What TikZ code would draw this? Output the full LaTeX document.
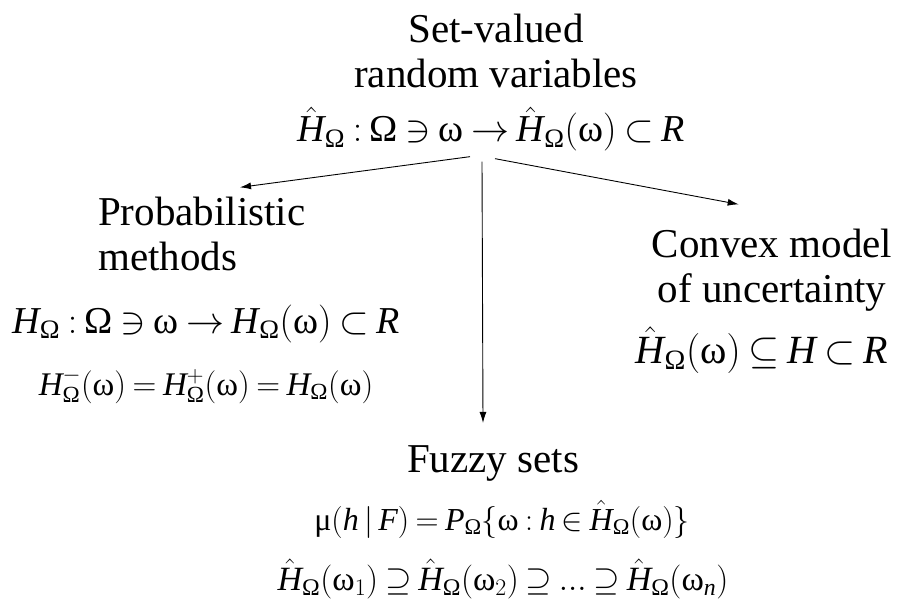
\RequirePackage{fix-cm}
\documentclass[tikz,border=0pt]{standalone}
\usepackage{amsmath}
\usepackage{fontspec}
\setmainfont{Liberation Serif}
\usetikzlibrary{arrows.meta}
\newcommand{\fsbig}{\fontsize{41}{45}\selectfont}
\newcommand{\fsmath}[1]{\fontsize{#1}{#1}\selectfont\thickmuskip=3.6mu\medmuskip=3mu}
\newcommand{\Om}{\text{Ω}}
\newcommand{\om}{\text{ω}}
\newcommand{\Hh}{\hat{\mathit{H}}}
\newcommand{\Hv}{\mathit{H}}
\begin{document}
\begin{tikzpicture}[x=1pt,y=-1pt,
  lbl/.style={font=\fsbig,inner sep=0pt,align=center},
  fml/.style={lbl,font=\fsmath{#1}},fml/.default=38,
  arr/.style={-{Latex[length=11pt,width=7pt]},line width=0.9pt}]
\useasboundingbox (0,0) rectangle (899,604);
% top: set-valued random variables
\node[lbl,anchor=base] (top) at (496,88) {Set-valued\\ random variables};
\node[fml,anchor=base] (topf) at (491,142) {$\Hh_{\Om} : \Om \ni \om \to \Hh_{\Om}(\om) \subset \mathit{R}$};
% left branch
\node[lbl,align=left,anchor=base west] (prob) at (98,270) {Probabilistic\\ methods};
\node[fml,anchor=base] (probf) at (206,333) {$\Hv_{\Om} : \Om \ni \om \to \Hv_{\Om}(\om) \subset \mathit{R}$};
\node[fml=33,anchor=base] (probg) at (206,395) {$\Hv^{-}_{\Om}(\om) = \Hv^{+}_{\Om}(\om) = \Hv_{\Om}(\om)$};
% right branch
\node[lbl,anchor=base] (convex) at (772,302) {Convex model\\ of uncertainty};
\node[fml=40,anchor=base] (convf) at (762,363) {$\Hh_{\Om}(\om) \subseteq \Hv \subset \mathit{R}$};
% bottom branch
\node[lbl,anchor=base] (fuzzy) at (493,472) {Fuzzy sets};
\node[fml=32,anchor=base] (fuzzf) at (502,530) {$\text{μ}(\mathit{h} \,|\, \mathit{F}) = \mathit{P}_{\Om}\{\om : \mathit{h} \in \Hh_{\Om}(\om)\}$};
\node[fml=34,anchor=base] (fuzzg) at (503,590) {$\Hh_{\Om}(\om_1) \supseteq \Hh_{\Om}(\om_2) \supseteq ... \supseteq \Hh_{\Om}(\om_{\mathit{n}})$};
% arrows
\draw[arr] ([xshift=-21pt,yshift=-5pt]topf.south) -- ([xshift=142pt,yshift=9pt]prob.north west);
\draw[arr] ([xshift=-9pt,yshift=-10pt]topf.south) -- ([xshift=-10pt,yshift=22pt]fuzzy.north);
\draw[arr] ([xshift=4pt,yshift=-7pt]topf.south) -- ([xshift=87pt,yshift=24pt]convex.north west);
\end{tikzpicture}
\end{document}
